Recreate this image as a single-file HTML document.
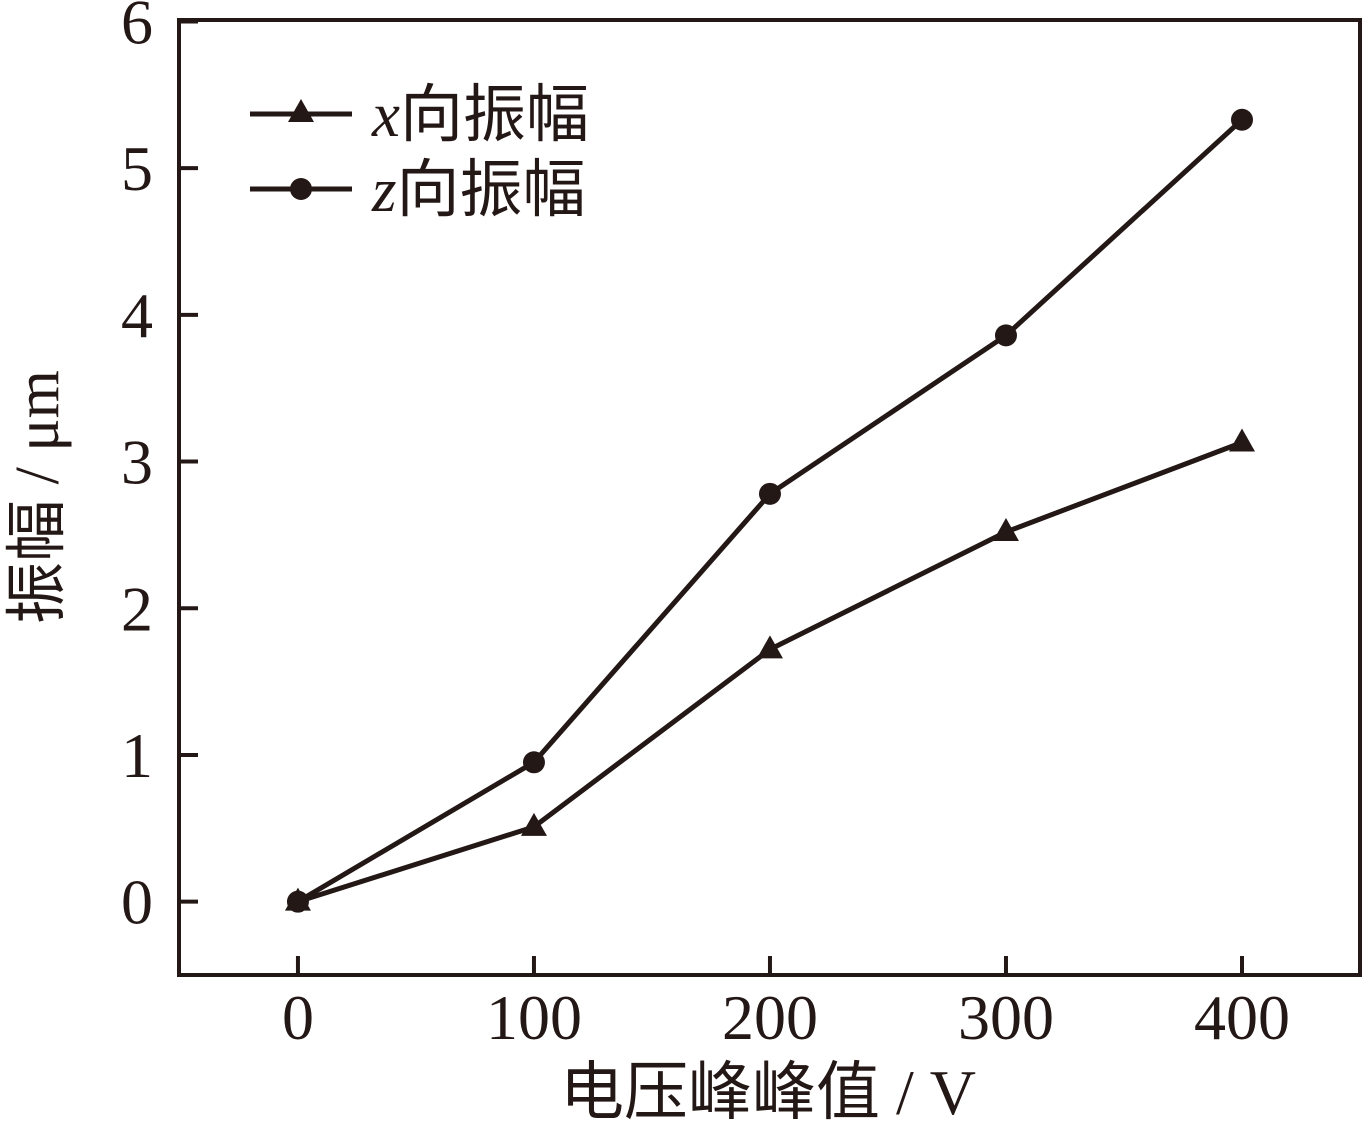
<!DOCTYPE html>
<html><head><meta charset="utf-8"><style>
html,body{margin:0;padding:0;background:#fff;}
svg text{font-family:"Liberation Serif","Noto Sans CJK SC",serif;fill:#231815;}
</style></head><body>
<svg id="chart" width="1363" height="1124" viewBox="0 0 1363 1124" xmlns="http://www.w3.org/2000/svg">
<g id="axes"></g><g id="series"></g>
<g>
 <g>
  <line x1="250" y1="114" x2="352" y2="114" stroke="#231815" stroke-width="5"/>
  <polygon points="301,99 314,122 288,122" fill="#231815"/>
  <text x="372" y="136" font-size="63"><tspan font-style="italic">x</tspan>向振幅</text>
 </g>
 <g>
  <line x1="250" y1="189" x2="352" y2="189" stroke="#231815" stroke-width="5"/>
  <circle cx="301" cy="189" r="11" fill="#231815"/>
  <text x="372" y="211" font-size="63"><tspan font-style="italic">z</tspan>向振幅</text>
 </g>
</g>
<text x="768" y="1114" font-size="64" text-anchor="middle">电压峰峰值 / V</text>
<text transform="translate(58,497) rotate(-90)" font-size="62" text-anchor="middle">振幅 / μm</text>
</svg>
<script>
const categories=[0,100,200,300,400];
const xAmp=[0,0.51,1.72,2.52,3.13];
const zAmp=[0,0.95,2.78,3.86,5.33];
const xTicks=[0,100,200,300,400];
const yTicks=[0,1,2,3,4,5,6];
const NS="http://www.w3.org/2000/svg";
const L=179,R=1360,T=20,B=975,xmin=-50.4,xmax=450,ymin=-0.5,ymax=6.01;
const sx=v=>L+(v-xmin)/(xmax-xmin)*(R-L);
const sy=v=>B-(v-ymin)/(ymax-ymin)*(B-T);
function mk(tag,attrs,parent){const e=document.createElementNS(NS,tag);for(const k in attrs)e.setAttribute(k,attrs[k]);parent.appendChild(e);return e;}
const axes=document.getElementById('axes'),series=document.getElementById('series');
const frame=mk('rect',{x:L,y:T,width:R-L,height:B-T,fill:'none',stroke:'#231815','stroke-width':4},axes);


xTicks.forEach(t=>{
 const l=mk('line',{x1:sx(t),x2:sx(t),y1:B,y2:B-19,stroke:'#231815','stroke-width':4},axes);
 
 
 const tx=mk('text',{x:sx(t),y:B+64,'font-size':64,'text-anchor':'middle'},axes);
 tx.textContent=t;
 
 
});
yTicks.forEach(t=>{
 const l=mk('line',{x1:L,x2:L+19,y1:sy(t),y2:sy(t),stroke:'#231815','stroke-width':4},axes);
 
 
 const tx=mk('text',{x:153,y:sy(t)+22,'font-size':64,'text-anchor':'end'},axes);
 tx.textContent=t;
 
 
});
function draw(vals,name,marker){
 const pts=categories.map((c,i)=>sx(c)+','+sy(vals[i])).join(' ');
 const pl=mk('polyline',{points:pts,fill:'none',stroke:'#231815','stroke-width':5,'stroke-linejoin':'round'},series);
 
 
 categories.forEach((c,i)=>{
  const x=sx(c),y=sy(vals[i]);let m;
  if(marker==='circle')m=mk('circle',{cx:x,cy:y,r:11,fill:'#231815'},series);
  else m=mk('polygon',{points:`${x},${y-14} ${x+13},${y+9} ${x-13},${y+9}`,fill:'#231815'},series);
  
  
 });
}
draw(xAmp,'x-amplitude','triangle');
draw(zAmp,'z-amplitude','circle');
</script>
</body></html>
